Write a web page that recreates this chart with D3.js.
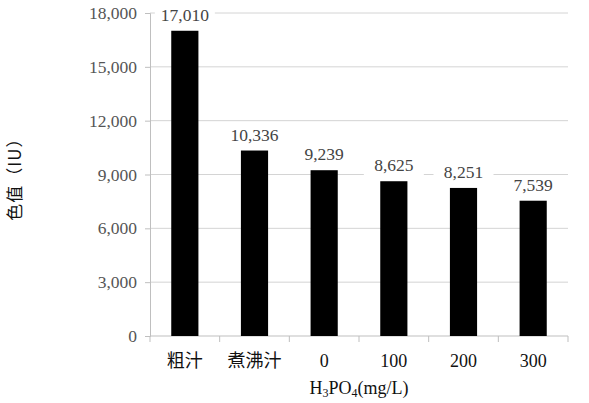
<!DOCTYPE html>
<html>
<head>
<meta charset="utf-8">
<script src="https://cdn.jsdelivr.net/npm/d3@7"></script>
<style>
	body { margin: 0; background: #fff; }
</style>
</head>
<body>
<svg id="chart"></svg>
<script>
// chart data
const categories = ['粗汁', '煮沸汁', '0', '100', '200', '300'];
const colorValues = [17010, 10336, 9239, 8625, 8251, 7539];
const yTicks = [0, 3000, 6000, 9000, 12000, 15000, 18000];

const SERIF = "'Liberation Serif', 'Times New Roman', serif";
const CJK = "'Noto Sans CJK SC', sans-serif";

const width = 589, height = 403;
const margin = { top: 13, right: 21, bottom: 67, left: 150 };
const innerW = width - margin.left - margin.right;
const innerH = height - margin.top - margin.bottom;

const svg = d3.select('#chart').attr('width', width).attr('height', height);
const chart = svg.append('g')
	.attr('transform', `translate(${margin.left},${margin.top})`);

const x = d3.scaleBand()
	.domain(categories)
	.range([0, innerW])
	.paddingInner(0.61)
	.paddingOuter(0.305);

const y = d3.scaleLinear().domain([0, 18000]).range([innerH, 0]);

// gridlines
chart.append('g')
	.selectAll('line')
	.data(yTicks.filter(d => d > 0))
	.join('line')
	.attr('x1', 0)
	.attr('x2', innerW)
	.attr('y1', d => y(d))
	.attr('y2', d => y(d))
	.attr('stroke', '#d4d4d4')
	.attr('stroke-width', 1);

// y axis
const yAxis = chart.append('g')
	.call(d3.axisLeft(y).tickValues(yTicks).tickSize(5).tickPadding(8)
		.tickFormat(d3.format(',')));
yAxis.select('.domain').attr('stroke', '#bfbfbf');
yAxis.selectAll('.tick line').attr('stroke', '#bfbfbf');
yAxis.selectAll('.tick text')
	.attr('fill', '#555')
	.style('font-family', SERIF)
	.style('font-size', '17.5px');

// x axis: ticks between categories
const xAxis = chart.append('g').attr('transform', `translate(0,${innerH})`);
xAxis.append('line')
	.attr('x1', 0).attr('x2', innerW)
	.attr('stroke', '#bfbfbf');
xAxis.selectAll('.sep')
	.data(d3.range(categories.length + 1))
	.join('line')
	.attr('class', 'sep')
	.attr('x1', i => i * x.step())
	.attr('x2', i => i * x.step())
	.attr('y1', 0)
	.attr('y2', 6)
	.attr('stroke', '#bfbfbf');
xAxis.selectAll('.cat')
	.data(categories)
	.join('text')
	.attr('class', 'cat')
	.attr('x', d => x(d) + x.bandwidth() / 2)
	.attr('y', 31)
	.attr('text-anchor', 'middle')
	.attr('fill', '#111')
	.style('font-family', (d, i) => i < 2 ? CJK : SERIF)
	.style('font-size', '18px')
	.text(d => d);

// bars
chart.selectAll('.bar')
	.data(colorValues)
	.join('rect')
	.attr('class', 'bar')
	.attr('x', (d, i) => x(categories[i]))
	.attr('y', d => y(d))
	.attr('width', x.bandwidth())
	.attr('height', d => innerH - y(d))
	.attr('fill', '#000');

// value labels with white background (gridlines break behind them)
const labels = chart.selectAll('.val')
	.data(colorValues)
	.join('g')
	.attr('class', 'val')
	.attr('transform', (d, i) =>
		`translate(${x(categories[i]) + x.bandwidth() / 2},${y(d) - 10})`);
labels.append('rect')
	.attr('x', -30).attr('y', -15)
	.attr('width', 60).attr('height', 19)
	.attr('fill', '#fff');
labels.append('text')
	.attr('text-anchor', 'middle')
	.attr('fill', '#444')
	.style('font-family', SERIF)
	.style('font-size', '17.5px')
	.text(d => d3.format(',')(d));

// axis titles
const xt = svg.append('text')
	.attr('x', margin.left + innerW / 2)
	.attr('y', 394)
	.attr('text-anchor', 'middle')
	.attr('fill', '#111')
	.style('font-family', SERIF)
	.style('font-size', '18px');
xt.append('tspan').text('H');
xt.append('tspan').attr('dy', 3).style('font-size', '12px').text('3');
xt.append('tspan').attr('dy', -3).text('PO');
xt.append('tspan').attr('dy', 3).style('font-size', '12px').text('4');
xt.append('tspan').attr('dy', -3).text('(mg/L)');

svg.append('text')
	.attr('transform', 'translate(21,175) rotate(-90)')
	.attr('text-anchor', 'middle')
	.attr('fill', '#111')
	.style('font-family', CJK)
	.style('font-size', '17px')
	.style('letter-spacing', '1px')
	.text('色值（IU）');
</script>
</body>
</html>
